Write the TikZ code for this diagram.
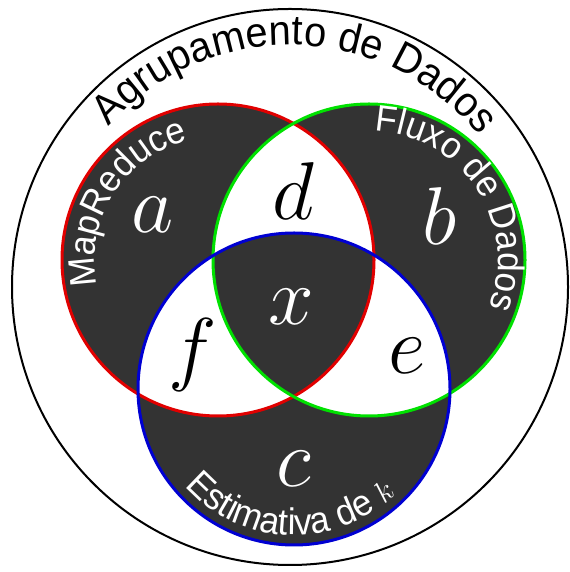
\RequirePackage{fix-cm}
\documentclass[tikz,border=0pt]{standalone}
\usepackage{fontspec}
\setmainfont{Liberation Sans}
\newfontfamily\arcfont[FakeStretch=0.95]{Liberation Sans}
\usepackage{xcolor}
\definecolor{venndark}{RGB}{51,51,51}
\definecolor{vennred}{RGB}{225,0,0}
\definecolor{venngreen}{RGB}{0,225,0}
\definecolor{vennblue}{RGB}{0,0,210}
\usepackage{tikz}
\usetikzlibrary{decorations.text}

\tikzset{
  setline/.style={line width=1.5pt},
  setletter/.style={font=\fontsize{41}{41}\selectfont, anchor=base, inner sep=0pt},
  arclabel/.style={decorate, decoration={text along path, text align=center, text color=#1}}
}

\begin{document}
\begin{tikzpicture}[x=0.5pt, y=0.5pt]
  \useasboundingbox (0,0) rectangle (569,572);
  \coordinate (all) at (290,285);
  \coordinate (mr) at (218,312);
  \coordinate (fd) at (369,312);
  \coordinate (ek) at (294,183);

  % odd overlaps dark, pairs white
  \fill[venndark, even odd rule] (mr) circle (156) (fd) circle (156) (ek) circle (156);
  \draw[line width=1pt] (all) circle (278);
  \draw[setline, vennred]   (mr) circle (156);
  \draw[setline, venngreen] (fd) circle (156);
  \draw[setline, vennblue]  (ek) circle (156);

  % labels along the circles
  \path[arclabel=black, decoration={text={|\arcfont\fontsize{21}{24}\selectfont|Agrupamento de Dados}}]
    (all) ++(178.5:242) arc[start angle=178.5, end angle=-1.5, radius=242];
  \path[arclabel=white, decoration={text={|\arcfont\fontsize{18.5}{20}\selectfont|MapReduce}}]
    (mr) ++(228:123) arc[start angle=228, end angle=68, radius=123];
  \path[arclabel=white, decoration={text={|\arcfont\fontsize{18.5}{20}\selectfont|Fluxo de Dados}}]
    (fd) ++(113:129) arc[start angle=113, end angle=-47, radius=129];
  \path[arclabel=white, decoration={text={|\arcfont\fontsize{18.5}{20}\selectfont|Estimativa de {\fontsize{15}{16}\selectfont$k$}}}]
    (ek) ++(188:146) arc[start angle=188, end angle=348, radius=146];

  % region letters
  \node[setletter, text=white] (a) at (153,339) {$a$};
  \node[setletter, text=white] (b) at (440,327) {$b$};
  \node[setletter, text=white] (c) at (294,85)  {$c$};
  \node[setletter] (d) at (293,352) {$d$};
  \node[setletter] (e) at (407,198) {$e$};
  \node[setletter] (f) at (193,196) {$f$};
  \node[setletter, text=white] (x) at (291,247) {$x$};
\end{tikzpicture}
\end{document}
